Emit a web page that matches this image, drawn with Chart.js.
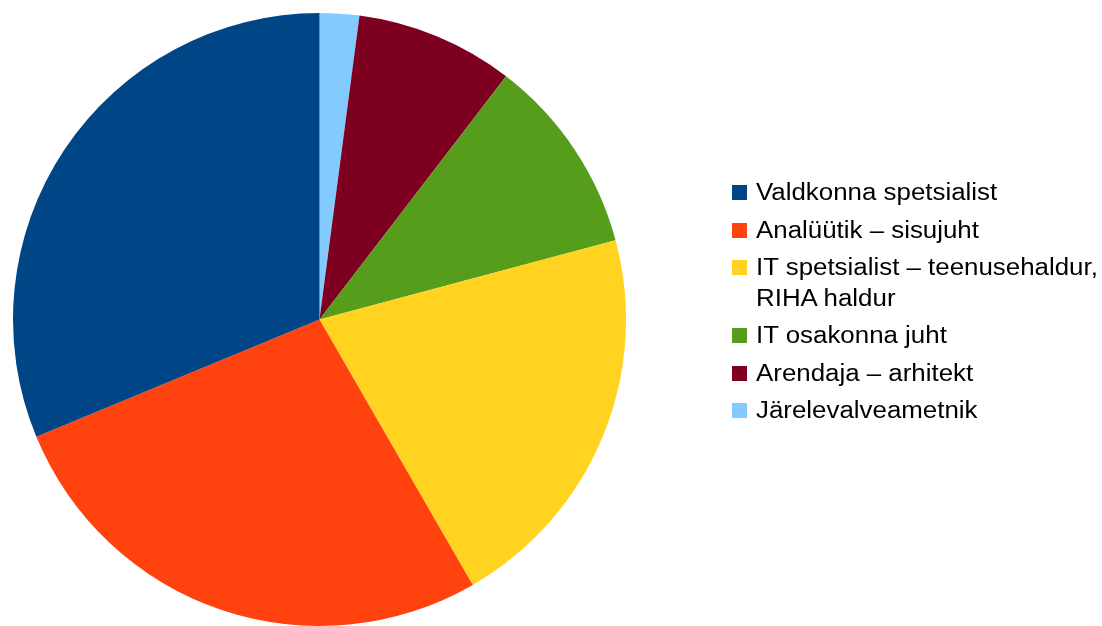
<!DOCTYPE html>
<html>

<head>
  <title>Roles pie</title>
  <script src="https://cdn.jsdelivr.net/npm/chart.js"></script>
  <style>
    body { margin: 0; background: #fff; }
    #wrap { position: relative; width: 1102px; height: 626px; }
    #legend { position: absolute; left: 732px; top: 177px; margin: 0; padding: 0; list-style: none;
      font-family: "Liberation Sans", Arial, sans-serif; font-size: 23px; line-height: 30.5px; color: #000; }
    #legend li { position: relative; padding-left: 24px; margin-bottom: 7.1px; }
    #legend .box { position: absolute; left: 0; top: 8px; width: 15px; height: 15px; }
    #legend .txt { display: inline-block; transform: scaleX(1.125); transform-origin: left; white-space: nowrap; }
  </style>
</head>

<body>
  <div id="wrap">
    <canvas id="myChart"></canvas>
    <ul id="legend"></ul>
  </div>
  <script>
    // legend order (LibreOffice draws them counter-clockwise from 12 o'clock)
    const labels = [
      'Valdkonna spetsialist',
      'Analüütik – sisujuht',
      ['IT spetsialist – teenusehaldur,', 'RIHA haldur'],
      'IT osakonna juht',
      'Arendaja – arhitekt',
      'Järelevalveametnik'
    ];
    const counts = [15, 13, 10, 5, 4, 1];
    const colors = ['#004586', '#ff420e', '#ffd320', '#579d1c', '#7e0021', '#83caff'];

    // chart.js goes clockwise, so feed it reversed
    const rev = a => a.slice().reverse();

    const ctx = document.getElementById("myChart").getContext("2d");
    const myChart = new Chart(ctx, {
      type: 'pie',
      data: {
        labels: rev(labels),
        datasets: [{
          data: rev(counts),
          backgroundColor: rev(colors),
          borderWidth: 0,
          hoverOffset: 0
        }]
      },
      options: {
        responsive: true,
        maintainAspectRatio: false,
        animation: false,
        layout: { padding: { left: 13, top: 13, right: 476, bottom: 0 } },
        plugins: {
          legend: { display: false },
          tooltip: { enabled: false }
        }
      }
    });

    const ul = document.getElementById('legend');
    labels.forEach((l, i) => {
      const li = document.createElement('li');
      const box = document.createElement('span');
      box.className = 'box';
      box.style.background = colors[i];
      const txt = document.createElement('span');
      txt.className = 'txt';
      (Array.isArray(l) ? l : [l]).forEach((line, j) => {
        if (j) txt.appendChild(document.createElement('br'));
        txt.appendChild(document.createTextNode(line));
      });
      li.appendChild(box);
      li.appendChild(txt);
      ul.appendChild(li);
    });
  </script>
</body>

</html>
